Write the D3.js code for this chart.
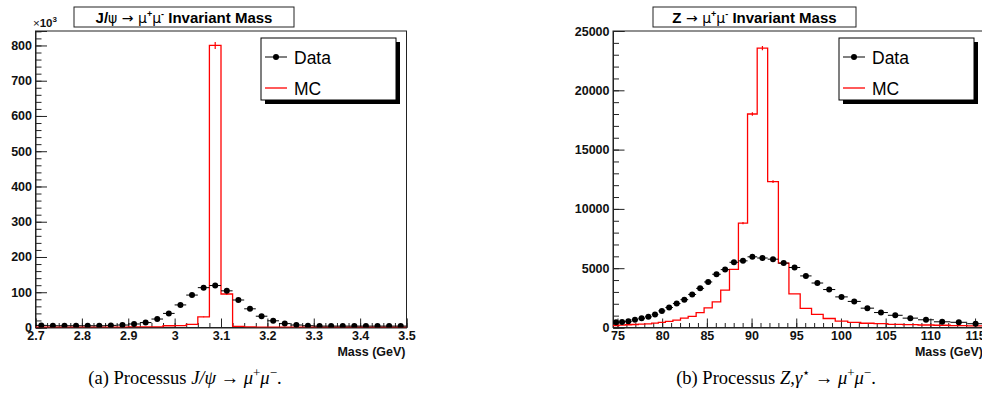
<!DOCTYPE html>
<html><head><meta charset="utf-8">
<script src="https://cdn.jsdelivr.net/npm/d3@7/dist/d3.min.js"></script>
<style>
html,body{margin:0;padding:0;background:#fff;}
svg{display:block;}
</style></head>
<body>
<script>
// ---------------- DATA ----------------
// J/psi panel (values in units of 10^3 entries), 0.025 GeV bins
const jpsiEdges = [2.7,2.725,2.75,2.775,2.8,2.825,2.85,2.875,2.9,2.925,2.95,2.975,3.0,3.025,3.05,3.075,3.1,3.125,3.15,3.175,3.2,3.225,3.25,3.275,3.3,3.325,3.35,3.375,3.4,3.425,3.45,3.475,3.5];
const jpsiData  = [6,5,5,5,5,5,6,7,10,14,24,40,64,92,113,119,104,78,53,32,19,11,7,5,4,4,4,4,4,4,4,4];
const jpsiMC    = [1,1,1,1,1,1,1,1,1.5,1.5,2,5,5.5,9,30,800,95,3,1.5,1,1,1,1,1,1,1,1,1,1,1,1,1];
const jpsiMCErr = [0,0,0,0,0,0,0,0,0,0,0,0,0,0,1,10,3,0,0,0,0,0,0,0,0,0,0,0,0,0,0,0];
const jpsiXTicks = [2.7,2.8,2.9,3.0,3.1,3.2,3.3,3.4,3.5];
const jpsiXLabels = ["2.7","2.8","2.9","3","3.1","3.2","3.3","3.4","3.5"];
const jpsiYTicks = [0,100,200,300,400,500,600,700,800];

// Z panel (entries), variable-width bins
const zEdges = [74.5,75.17,75.86,76.58,77.33,78.08,78.83,79.57,80.36,81.20,82.05,82.91,83.80,84.69,85.60,86.55,87.53,88.53,89.55,90.63,91.80,93.00,94.18,95.44,96.71,98.01,99.36,100.76,102.21,103.70,105.25,106.90,108.62,110.40,112.24,114.12,116.0];
const zData  = [440,455,520,660,780,900,1090,1400,1690,2020,2350,2790,3300,3840,4490,4880,5500,5620,5960,5860,5760,5430,5060,4350,3750,3200,2580,2200,1630,1260,1030,790,650,480,440,320];
const zMC    = [170,200,230,255,280,310,370,425,510,625,795,940,1250,1650,2160,3150,4900,8800,18000,23550,12300,5430,2830,1620,1100,760,540,430,360,320,270,240,210,190,150,140];
const zMCErr = [0,0,0,0,0,0,0,0,0,0,0,0,0,0,0,0,0,100,150,180,120,0,0,0,0,0,0,0,0,0,0,0,0,0,0,0];
const zXTicks = [75,80,85,90,95,100,105,110,115];
const zXLabels = ["75","80","85","90","95","100","105","110","115"];
const zYTicks = [0,5000,10000,15000,20000,25000];

const legendLabels = ["Data","MC"];

// ---------------- DRAW ----------------
const W = 982, H = 405;
const svg = d3.select("body").append("svg").attr("width", W).attr("height", H)
  .style("font-family", "'Liberation Sans', Arial, sans-serif");
svg.append("rect").attr("width", W).attr("height", H).attr("fill", "#fff");

function range(a, b, step) { const r = []; for (let v = a; v <= b + 1e-9; v += step) r.push(+v.toFixed(6)); return r; }

function panel(cfg) {
  const g = svg.append("g");
  const x = d3.scaleLinear().domain(cfg.xDomain).range([cfg.left, cfg.right]);
  const y = d3.scaleLinear().domain(cfg.yDomain).range([cfg.bottom, cfg.top]);

  // frame
  g.append("rect").attr("x", cfg.left).attr("y", cfg.top)
    .attr("width", cfg.right - cfg.left).attr("height", cfg.bottom - cfg.top)
    .attr("fill", "none").attr("stroke", "#222").attr("stroke-width", 1);

  // minor ticks
  const yMinor = d3.axisLeft(y).tickValues(cfg.yMinor).tickSize(-6).tickFormat("");
  g.append("g").attr("transform", `translate(${cfg.left},0)`).call(yMinor)
    .call(s => s.select(".domain").remove());
  const xMinor = d3.axisBottom(x).tickValues(cfg.xMinor).tickSize(-4.5).tickFormat("");
  g.append("g").attr("transform", `translate(0,${cfg.bottom})`).call(xMinor)
    .call(s => s.select(".domain").remove());

  // major axes
  const yAx = d3.axisLeft(y).tickValues(cfg.yTicks).tickSize(-11.5).tickPadding(3.5)
    .tickFormat(d => d3.format("d")(d));
  const ya = g.append("g").attr("transform", `translate(${cfg.left},0)`).call(yAx);
  const xAx = d3.axisBottom(x).tickValues(cfg.xTicks).tickSize(-9).tickPadding(3.5)
    .tickFormat((d, i) => cfg.xLabels[i]);
  const xa = g.append("g").attr("transform", `translate(0,${cfg.bottom})`).call(xAx);
  [ya, xa].forEach(a => {
    a.selectAll("text").attr("font-size", 12.5).attr("font-weight", "bold").attr("fill", "#111")
      .attr("font-family", "'Liberation Sans', Arial, sans-serif");
    a.selectAll("line").attr("stroke", "#222");
    a.select(".domain").attr("stroke", "#222");
  });
  g.selectAll(".tick line").attr("stroke", "#222");

  // x title
  g.append("text").attr("x", cfg.right - 1).attr("y", 355.5).attr("text-anchor", "end")
    .attr("font-size", 12.5).attr("font-weight", "bold").attr("fill", "#111").text("Mass (GeV)");

  const clip = "clip" + cfg.id;
  g.append("clipPath").attr("id", clip).append("rect")
    .attr("x", cfg.left).attr("y", cfg.top - 20).attr("width", cfg.right - cfg.left).attr("height", cfg.bottom - cfg.top + 20);
  const plot = g.append("g").attr("clip-path", `url(#${clip})`);

  // MC histogram (step outline)
  const pts = [];
  cfg.mc.forEach((v, i) => {
    pts.push([x(cfg.edges[i]), y(v)]);
    pts.push([x(cfg.edges[i + 1]), y(v)]);
  });
  plot.append("path").attr("d", d3.line()(pts)).attr("fill", "none")
    .attr("stroke", "#ff0000").attr("stroke-width", 1.3);
  // MC error bars
  cfg.mc.forEach((v, i) => {
    const e = cfg.mcErr[i];
    if (!e) return;
    const cx = x((cfg.edges[i] + cfg.edges[i + 1]) / 2);
    plot.append("line").attr("x1", cx).attr("x2", cx).attr("y1", y(v - e)).attr("y2", y(v + e))
      .attr("stroke", "#ff0000").attr("stroke-width", 1.2);
  });

  // Data points with horizontal bin bars
  cfg.data.forEach((v, i) => {
    const lo = cfg.edges[i], hi = cfg.edges[i + 1];
    plot.append("line").attr("x1", x(lo)).attr("x2", x(hi)).attr("y1", y(v)).attr("y2", y(v))
      .attr("stroke", "#000").attr("stroke-width", 1);
    plot.append("circle").attr("cx", x((lo + hi) / 2)).attr("cy", y(v)).attr("r", 3).attr("fill", "#000");
  });

  // title box
  g.append("rect").attr("x", cfg.titleX).attr("y", 7).attr("width", cfg.titleW).attr("height", 20)
    .attr("fill", "#fff").attr("stroke", "#222").attr("stroke-width", 1);
  const t = g.append("text").attr("x", cfg.titleX + cfg.titleW / 2).attr("y", 23)
    .attr("text-anchor", "middle").attr("font-size", 15).attr("font-weight", "bold").attr("fill", "#000");
  cfg.titleParts.forEach(p => {
    const s = t.append("tspan").text(p.t);
    if (p.n) s.attr("font-weight", "normal").attr("font-family", "'DejaVu Sans', sans-serif").attr("font-size", 14);
    if (p.sup) s.attr("font-size", 9).attr("dy", p.dy);
    if (p.dy && !p.sup) s.attr("dy", p.dy);
  });

  // legend
  const lx = cfg.legX, ly = 38, lw = 135, lh = 62;
  g.append("rect").attr("x", lx + 4).attr("y", ly + 4).attr("width", lw).attr("height", lh).attr("fill", "#000");
  g.append("rect").attr("x", lx).attr("y", ly).attr("width", lw).attr("height", lh)
    .attr("fill", "#fff").attr("stroke", "#000").attr("stroke-width", 1);
  g.append("line").attr("x1", lx + 4).attr("x2", lx + 26).attr("y1", ly + 19).attr("y2", ly + 19).attr("stroke", "#000");
  g.append("circle").attr("cx", lx + 15).attr("cy", ly + 19).attr("r", 3).attr("fill", "#000");
  g.append("line").attr("x1", lx + 4).attr("x2", lx + 26).attr("y1", ly + 50).attr("y2", ly + 50)
    .attr("stroke", "#ff0000").attr("stroke-width", 1.3);
  g.append("text").attr("x", lx + 33).attr("y", ly + 25.5).attr("font-size", 17.5).attr("fill", "#000").text(legendLabels[0]);
  g.append("text").attr("x", lx + 33).attr("y", ly + 56.5).attr("font-size", 17.5).attr("fill", "#000").text(legendLabels[1]);

  return g;
}

const g1 = panel({
  id: "a", left: 35.5, right: 406.5, top: 31, bottom: 327.5,
  xDomain: [2.7, 3.5], yDomain: [0, 841],
  xTicks: jpsiXTicks, xLabels: jpsiXLabels, xMinor: range(2.7, 3.5, 0.025),
  yTicks: jpsiYTicks, yMinor: range(0, 840, 20),
  edges: jpsiEdges, data: jpsiData, mc: jpsiMC, mcErr: jpsiMCErr,
  titleX: 74, titleW: 220,
  titleParts: [{t: "J/"}, {t: "ψ", n: 1}, {t: " → ", n: 1}, {t: "μ", n: 1}, {t: "+", sup: 1, dy: -6},
               {t: "μ", n: 1, dy: 6}, {t: "-", sup: 1, dy: -6}, {t: " Invariant Mass", dy: 6}],
  legX: 261
});
// ×10^3 multiplier
const mult = g1.append("text").attr("x", 33).attr("y", 27).attr("font-size", 11.5).attr("fill", "#111");
mult.append("tspan").text("×");
mult.append("tspan").attr("font-weight", "bold").text("10");
mult.append("tspan").attr("font-weight", "bold").attr("font-size", 8).attr("dy", -5).text("3");

panel({
  id: "b", left: 613, right: 984, top: 31, bottom: 327.5,
  xDomain: [74.5, 116], yDomain: [0, 25000],
  xTicks: zXTicks, xLabels: zXLabels, xMinor: range(75, 116, 1),
  yTicks: zYTicks, yMinor: range(0, 25000, 1000),
  edges: zEdges, data: zData, mc: zMC, mcErr: zMCErr,
  titleX: 653, titleW: 203,
  titleParts: [{t: "Z"}, {t: " → ", n: 1}, {t: "μ", n: 1}, {t: "+", sup: 1, dy: -6},
               {t: "μ", n: 1, dy: 6}, {t: "-", sup: 1, dy: -6}, {t: " Invariant Mass", dy: 6}],
  legX: 839
});

// captions
function caption(cx, parts) {
  const t = svg.append("text").attr("x", cx).attr("y", 384).attr("text-anchor", "middle")
    .attr("font-family", "'Liberation Serif', 'DejaVu Serif', serif").attr("font-size", 18.5).attr("fill", "#000");
  parts.forEach(p => {
    const s = t.append("tspan").text(p.t);
    if (p.i) s.attr("font-style", "italic");
    if (p.sup) s.attr("font-size", 13).attr("dy", p.dy);
    else if (p.dy) s.attr("dy", p.dy);
  });
}
caption(185, [{t: "(a) Processus "}, {t: "J/ψ", i: 1}, {t: " → "}, {t: "μ", i: 1}, {t: "+", sup: 1, dy: -7},
              {t: "μ", i: 1, dy: 7}, {t: "−", sup: 1, dy: -7}, {t: ".", dy: 7}]);
caption(776, [{t: "(b) Processus "}, {t: "Z", i: 1}, {t: ","}, {t: "γ", i: 1}, {t: "⋆", sup: 1, dy: -7},
              {t: " → ", dy: 7}, {t: "μ", i: 1}, {t: "+", sup: 1, dy: -7},
              {t: "μ", i: 1, dy: 7}, {t: "−", sup: 1, dy: -7}, {t: ".", dy: 7}]);
</script>
</body></html>
